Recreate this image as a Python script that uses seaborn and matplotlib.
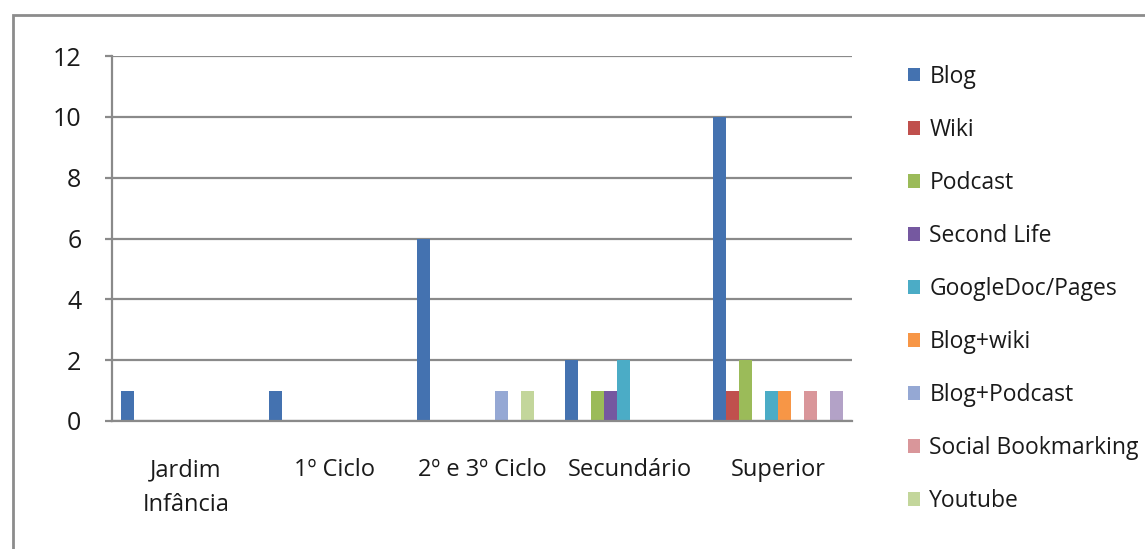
import pandas as pd
import seaborn as sns
import matplotlib.pyplot as plt
from matplotlib.patches import Patch, Rectangle

# data
niveis = ["Jardim\nInfância", "1º Ciclo", "2º e 3º Ciclo", "Secundário", "Superior"]
ferramentas = ["Blog", "Wiki", "Podcast", "Second Life", "GoogleDoc/Pages",
               "Blog+wiki", "Blog+Podcast", "Social Bookmarking", "Youtube", "Outros"]
blog = [1, 1, 6, 2, 10]
wiki = [0, 0, 0, 0, 1]
podcast = [0, 0, 0, 1, 2]
second_life = [0, 0, 0, 1, 0]
googledoc = [0, 0, 0, 2, 1]
blog_wiki = [0, 0, 0, 0, 1]
blog_podcast = [0, 0, 1, 0, 0]
social_bookmarking = [0, 0, 0, 0, 1]
youtube = [0, 0, 1, 0, 0]
outros = [0, 0, 0, 0, 1]

cores = ["#4472B0", "#C0504D", "#9BBB59", "#7558A0", "#4BACC6",
         "#F79646", "#95A8D4", "#D9969A", "#C3D69B", "#B3A2C7"]

series = [blog, wiki, podcast, second_life, googledoc, blog_wiki,
          blog_podcast, social_bookmarking, youtube, outros]
rows = []
for nome, vals in zip(ferramentas, series):
    for nivel, v in zip(niveis, vals):
        rows.append({"nivel": nivel, "ferramenta": nome, "valor": v})
df = pd.DataFrame(rows)

sns.set_style("white")
plt.rcParams["font.family"] = ["Open Sans", "DejaVu Sans"]

fig = plt.figure(figsize=(11.45, 5.49), dpi=100)
ax = fig.add_axes([112 / 1145, 1 - 421 / 549, (852 - 112) / 1145, (421 - 56) / 549])

sns.barplot(data=df, x="nivel", y="valor", hue="ferramenta", order=niveis,
            hue_order=ferramentas, palette=cores, width=130 / 148, gap=0,
            saturation=1, linewidth=0, legend=False, ax=ax)

grey = "#8a8a8a"
ax.set_xlim(-0.5, 4.5)
ax.set_ylim(0, 12)
ax.set_yticks(range(0, 13, 2))
ax.yaxis.grid(True, color=grey, linewidth=1.6)
ax.set_axisbelow(True)
ax.set_xlabel("")
ax.set_ylabel("")
for s in ["top", "right"]:
    ax.spines[s].set_visible(False)
for s in ["left", "bottom"]:
    ax.spines[s].set_color(grey)
    ax.spines[s].set_linewidth(1.6)

ax.set_xticks(range(5))
ax.set_xticklabels(niveis, fontsize=17, color="#1a1a1a", linespacing=1.6)
ax.set_xticks([i - 0.5 for i in range(6)], minor=True)
ax.tick_params(axis="x", which="major", length=0, pad=27)
ax.tick_params(axis="x", which="minor", length=6, width=1.6, color=grey, direction="out")
ax.tick_params(axis="y", length=5, width=1.6, color=grey, pad=17, labelsize=18,
               labelcolor="#1a1a1a", left=True)
for t in ax.get_xticklabels():
    t.set_verticalalignment("top")

handles = [Patch(facecolor=c, edgecolor="none") for c in cores[:9]]
fig.legend(handles, ferramentas[:9], loc="upper left",
           bbox_to_anchor=(887 / 1145, 1 - 44 / 549), frameon=False,
           fontsize=16.5, labelspacing=1.27, handlelength=0.55, handleheight=0.55,
           handletextpad=0.4, labelcolor="#1a1a1a")

fig.patches.append(Rectangle((13 / 1145, -0.1), 1.2, 1 - 15 / 549 + 0.1,
                             transform=fig.transFigure, fill=False,
                             edgecolor="#8c8c8c", linewidth=2))

fig.savefig("out.png", dpi=100)
